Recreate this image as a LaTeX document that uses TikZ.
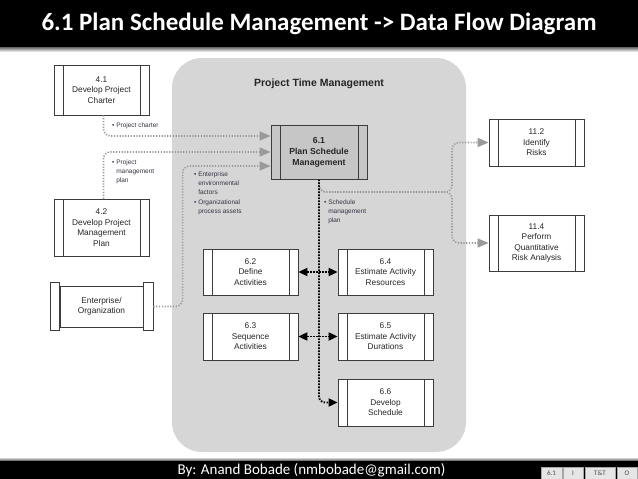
\documentclass[tikz,border=0pt]{standalone}
\usepackage{fontspec}
\setmainfont{Liberation Sans}
\newfontfamily\calib{Carlito}
\usetikzlibrary{arrows.meta}
\definecolor{regiongray}{HTML}{D6D6D6}
\definecolor{boxline}{HTML}{3C3C3C}
\definecolor{dotgray}{HTML}{9A9A9A}
\definecolor{labelcol}{HTML}{3A3345}
\definecolor{pfill}{HTML}{C6C6C6}
\tikzset{
  procbox/.style={draw=boxline, line width=0.8pt, fill=white, minimum width=95pt,
    minimum height=47pt, inner sep=0pt, align=center,
    font=\fontsize{8.3}{10.5}\selectfont, text=black!85,
    path picture={\draw[boxline, line width=0.8pt]
      ([xshift=9pt]path picture bounding box.north west) -- ([xshift=9pt]path picture bounding box.south west)
      ([xshift=-9pt]path picture bounding box.north east) -- ([xshift=-9pt]path picture bounding box.south east);}},
  lbl/.style={align=left, inner sep=0pt, text=labelcol, font=\fontsize{6.5}{8.6}\selectfont},
  gline/.style={draw=dotgray, line width=1.6pt, dash pattern=on 1.2pt off 1.6pt, rounded corners=7pt},
  bline/.style={draw=black, line width=1.9pt, dash pattern=on 1.6pt off 1.4pt, rounded corners=6pt},
  gtip/.tip={Triangle[length=11pt,width=9pt]},
  btip/.tip={Triangle[length=9pt,width=8pt]},
  footbox/.style={draw=gray!70, fill=gray!20, minimum height=12pt, inner sep=0pt,
    text=black!70, font=\calib\fontsize{7}{8}\selectfont}
}
\begin{document}
\begin{tikzpicture}[x=1pt,y=-1pt]
\useasboundingbox (0,0) rectangle (638,479);
\fill[white] (0,0) rectangle (638,479);
% title bar
\fill[black] (0,0) rectangle (638,47);
\shade[top color=black!60, bottom color=white] (0,47) rectangle (638,52);
\node[text=white, font=\calib\bfseries\fontsize{25}{28}\selectfont] (title) at (319,24)
  {6.1 Plan Schedule Management -> Data Flow Diagram};
% region
\fill[regiongray, rounded corners=30pt] (172,58) rectangle (466,452);
\node[font=\bfseries\fontsize{10.5}{12}\selectfont, text=black!85] (ptm) at (319,84) {Project Time Management};
% boxes
\node[procbox, minimum height=50pt] (b41) at (101.5,90) {4.1\\Develop Project\\Charter};
\node[procbox, minimum height=57pt] (b42) at (101.5,227.5) {4.2\\Develop Project\\Management\\Plan};
\node[draw=boxline, line width=0.8pt, fill=white, minimum width=83pt, minimum height=41pt,
  inner sep=0pt, align=center, font=\fontsize{8.3}{10.5}\selectfont, text=black!85] (ent) at (101.5,306.5)
  {Enterprise/\\Organization};
\draw[boxline, line width=0.8pt, fill=white] ([yshift=3pt]ent.north west) rectangle ([xshift=-9pt,yshift=-3pt]ent.south west);
\draw[boxline, line width=0.8pt, fill=white] ([yshift=3pt]ent.north east) rectangle ([xshift=10pt,yshift=-3pt]ent.south east);
\node[procbox, fill=pfill, minimum width=96pt, minimum height=54pt,
  font=\bfseries\fontsize{8.7}{11}\selectfont] (p61) at (319,152) {6.1\\Plan Schedule\\Management};
\node[procbox] (b112) at (536.5,142.5) {11.2\\Identify\\Risks};
\node[procbox, minimum height=56pt] (b114) at (536.5,243) {11.4\\Perform\\Quantitative\\Risk Analysis};
\node[procbox, minimum height=46pt] (b62) at (250.5,272) {6.2\\Define\\Activities};
\node[procbox, minimum height=46pt] (b64) at (385.5,272) {6.4\\Estimate Activity\\Resources};
\node[procbox] (b63) at (250.5,336.5) {6.3\\Sequence\\Activities};
\node[procbox] (b65) at (385.5,336.5) {6.5\\Estimate Activity\\Durations};
\node[procbox] (b66) at (385.5,402.5) {6.6\\Develop\\Schedule};
% grey connectors
\draw[gline, -{gtip}] ([xshift=2pt]b41.south) |- ([yshift=16pt]p61.west);
\draw[gline, -{gtip}] ([xshift=2pt]b42.north) |- (p61.west);
\draw[gline, -{gtip}] ([xshift=10pt]ent.east) -| ([xshift=-88pt,yshift=-14pt]p61.west) -- ([yshift=-14pt]p61.west);
\coordinate (fork) at (452,192);
\draw[gline, -{gtip}] (p61.south) |- (fork) |- (b112.west);
\draw[gline, -{gtip}] (p61.south) |- (fork) |- (b114.west);
% black connectors
\draw[bline, -{btip}] (p61.south) |- (b66.west);
\draw[bline, {btip}-{btip}] (b62.east) -- (b64.west);
\draw[bline, {btip}-{btip}] (b63.east) -- (b65.west);
% labels
\node[lbl, anchor=west] (l1) at (112,126) {\textbullet\ Project charter};
\node[lbl, anchor=north west] (l2) at (112,160) {\textbullet\ Project\\\hphantom{\textbullet\ }management\\\hphantom{\textbullet\ }plan};
\node[lbl, anchor=north west] (l3) at (194,172) {\textbullet\ Enterprise\\\hphantom{\textbullet\ }environmental\\\hphantom{\textbullet\ }factors\\[2pt]\textbullet\ Organizational\\\hphantom{\textbullet\ }process assets};
\node[lbl, anchor=north west] (l4) at (324,200) {\textbullet\ Schedule\\\hphantom{\textbullet\ }management\\\hphantom{\textbullet\ }plan};
% footer
\shade[top color=white, bottom color=black!70] (0,457) rectangle (638,461);
\fill[black] (0,461) rectangle (638,479);
\node[text=white, font=\calib\fontsize{15}{17}\selectfont] (foot) at (311.5,470) {By: Anand Bobade (nmbobade@gmail.com)};
\node[footbox, minimum width=21pt] (f1) at (551.5,473) {6.1};
\node[footbox, minimum width=20pt] (f2) at (573,473) {I};
\node[footbox, minimum width=30pt] (f3) at (600,473) {T\&T};
\node[footbox, minimum width=20pt] (f4) at (627,473) {O};
\end{tikzpicture}
\end{document}
